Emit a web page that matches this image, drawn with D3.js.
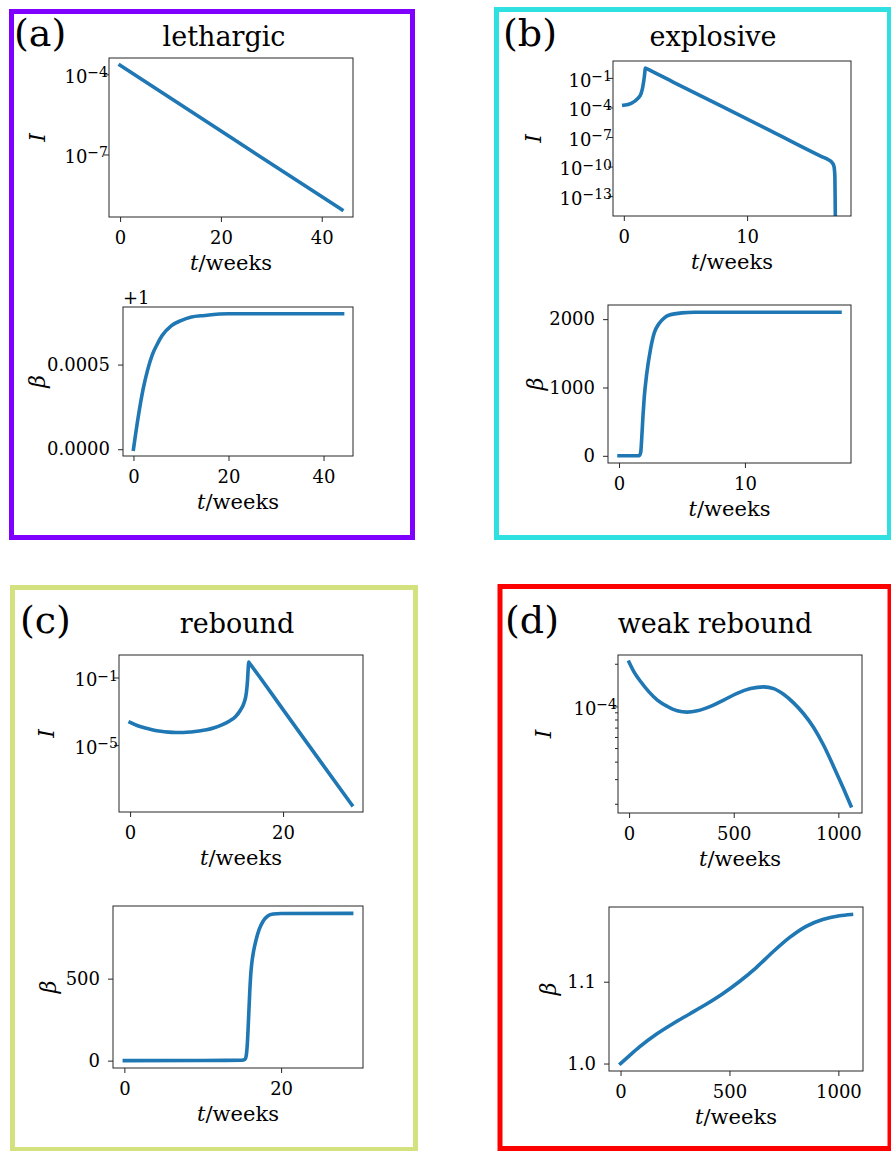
<!DOCTYPE html>
<html>
<head>
<meta charset="utf-8">
<script src="https://cdn.jsdelivr.net/npm/d3@7"></script>
<style>
  body { margin: 0; background: #fff; }
  .frame { fill: none; stroke: #262626; stroke-width: 1; }
  .curve { fill: none; stroke: #1f77b4; stroke-width: 3.6; stroke-linecap: square; stroke-linejoin: round; }
  .tag { font-family: "DejaVu Serif"; font-size: 38px; fill: #000; }
  .title { font-family: "DejaVu Serif"; font-size: 27px; fill: #000; }
</style>
</head>
<body>
<div id="chart"></div>
<script>

// (a) lethargic
var tA_I   = [0, 22, 44];
var iA     = [2.2e-4, 4.3e-7, 8.5e-10];
var tA_B   = [0, 1, 2, 3, 4, 5, 6, 8, 10, 12, 15, 20, 30, 44];
var betaA  = [1, 1.00019, 1.00035, 1.00047, 1.00056, 1.00062, 1.00067, 1.00073, 1.00076, 1.00078, 1.00079, 1.0008, 1.0008, 1.0008];

// (b) explosive
var tB_I   = [0, 0.6, 1.14, 1.4, 1.54, 1.62, 1.7, 1.74, 1.8, 4, 8, 12, 16, 16.6, 16.9, 17.05, 17.12, 17.15, 17.2, 17.55];
var iB     = [1.7e-4, 2.6e-4, 8.3e-4, 2.5e-3, 1.26e-2, 5.0e-2, 0.32, 1.0, 0.92, 3.8e-2, 1.2e-4, 3.7e-7, 1.1e-9, 4.8e-10, 2.5e-10, 1.0e-10, 1.0e-11, 5.0e-15, 0, 0];
var tB_B   = [0, 1.0, 1.6, 1.72, 1.8, 1.9, 2.0, 2.2, 2.5, 2.8, 3.2, 3.6, 4.0, 5, 6, 10, 17.55];
var betaB  = [0, 0, 2, 50, 250, 580, 850, 1200, 1560, 1800, 1940, 2020, 2060, 2092, 2100, 2102, 2102];

// (c) rebound
var tC_I   = [0, 1, 2, 3, 4, 5, 6, 7, 8, 9, 10, 11, 12, 13, 13.8, 14.4, 14.9, 15.2, 15.35, 15.45, 15.5, 15.55, 20, 25, 29];
var iC     = [2.24e-4, 1.41e-4, 1.02e-4, 7.9e-5, 6.6e-5, 5.9e-5, 5.6e-5, 5.6e-5, 6.0e-5, 6.8e-5, 8.1e-5, 1.07e-4, 1.58e-4, 2.7e-4,
              5.0e-4, 1.12e-3, 3.2e-3, 1.26e-2, 6.3e-2, 0.4, 0.81, 0.757, 1.26e-3, 9.3e-7, 2.95e-9];
var tC_B   = [0, 10, 15, 15.4, 15.55, 15.7, 15.85, 16.0, 16.15, 16.3, 16.5, 16.8, 17.2, 17.7, 18.3, 19, 20, 29];
var betaC  = [0, 1, 2, 8, 30, 110, 260, 420, 540, 610, 670, 735, 800, 850, 882, 894, 897, 898];

// (d) weak rebound
var tD_I   = [0, 24, 56, 95, 135, 183, 230, 278, 326, 389, 452, 516, 580, 643, 691, 738, 786, 833, 881, 929, 976, 1024, 1060];
var iD     = [2.07e-4, 1.76e-4, 1.50e-4, 1.27e-4, 1.11e-4, 1.0e-4, 9.3e-5, 9.1e-5, 9.3e-5, 1.0e-4, 1.11e-4, 1.24e-4, 1.34e-4,
              1.38e-4, 1.34e-4, 1.22e-4, 1.06e-4, 8.9e-5, 7.1e-5, 5.3e-5, 3.76e-5, 2.6e-5, 1.95e-5];
var tD_B   = [0, 41, 87, 164, 240, 317, 393, 469, 546, 622, 699, 775, 852, 928, 1005, 1060];
var betaD  = [1.0, 1.0098, 1.0204, 1.0358, 1.0487, 1.0606, 1.0724, 1.0853, 1.1003, 1.117, 1.1363, 1.1538, 1.1677, 1.176, 1.1806, 1.1822];

// tick values
var xTicksA = [0, 20, 40], xTicksB = [0, 10], xTicksC = [0, 20], xTicksD = [0, 500, 1000];
var iTicksA = [1e-4, 1e-7];
var iTicksB = [1e-1, 1e-4, 1e-7, 1e-10, 1e-13];
var iTicksC = [1e-1, 1e-5];
var iTicksD = [1e-4];
var bTicksA = [1.0, 1.0005];
var bTicksB = [0, 1000, 2000];
var bTicksC = [0, 500];
var bTicksD = [1.0, 1.1];

var serif = "DejaVu Serif";

var svg = d3.select("#chart").append("svg")
  .attr("width", 891)
  .attr("height", 1151);

// coloured panel boxes with their headings
var boxes = [
  { color: "#8000ff", x: 11.5,  y: 11.5,  w: 401, h: 526, tag: "(a)", title: "lethargic",    tagX: 14,  titleX: 224, base: 46 },
  { color: "#2fe0e0", x: 496.5, y: 9.5,   w: 393, h: 528, tag: "(b)", title: "explosive",    tagX: 503, titleX: 713, base: 46 },
  { color: "#d4e17f", x: 12.5,  y: 587.5, w: 403, h: 562, tag: "(c)", title: "rebound",      tagX: 20,  titleX: 237, base: 633 },
  { color: "#ff0000", x: 500,   y: 586.5, w: 390, h: 562, tag: "(d)", title: "weak rebound", tagX: 505, titleX: 715, base: 633 }
];

boxes.forEach(function(b){
  svg.append("rect")
    .attr("x", b.x).attr("y", b.y)
    .attr("width", b.w).attr("height", b.h)
    .attr("fill", "none")
    .attr("stroke", b.color)
    .attr("stroke-width", 5);
  svg.append("text").attr("class", "tag")
    .attr("x", b.tagX).attr("y", b.base)
    .text(b.tag);
  svg.append("text").attr("class", "title")
    .attr("x", b.titleX).attr("y", b.base)
    .attr("text-anchor", "middle")
    .text(b.title);
});

var clipId = 0;

function drawAxes(cfg){
  var g = svg.append("g")
    .attr("transform", "translate(" + cfg.x + "," + cfg.y + ")");

  // matplotlib style 5% margins
  var te = d3.extent(cfg.t), tp = (te[1] - te[0]) * 0.05;
  var x = d3.scaleLinear().domain([te[0] - tp, te[1] + tp]).range([0, cfg.w]);

  var y;
  if (cfg.log) {
    var lg = cfg.v.filter(function(d){ return d > 0; }).map(Math.log10);
    var lo = d3.min(lg), hi = d3.max(lg), p = (hi - lo) * 0.05;
    y = d3.scaleLog().domain([Math.pow(10, lo - p), Math.pow(10, hi + p)]).range([cfg.h, 0]);
  } else {
    var e = d3.extent(cfg.v), q = (e[1] - e[0]) * 0.05;
    y = d3.scaleLinear().domain([e[0] - q, e[1] + q]).range([cfg.h, 0]);
  }

  // curve
  clipId++;
  g.append("clipPath").attr("id", "clip" + clipId)
    .append("rect").attr("width", cfg.w).attr("height", cfg.h);

  var line = d3.line()
    .x(function(i){ return x(cfg.t[i]); })
    .y(function(i){ return cfg.v[i] > 0 || !cfg.log ? y(cfg.v[i]) : cfg.h + 60; })
    .curve(d3.curveMonotoneX);

  g.append("path")
    .attr("class", "curve")
    .attr("clip-path", "url(#clip" + clipId + ")")
    .attr("d", line(d3.range(cfg.t.length)));

  // axes
  var xAxis = d3.axisBottom(x).tickValues(cfg.xTicks).tickSize(5).tickPadding(9)
    .tickFormat(d3.format("d"));
  var gx = g.append("g").attr("transform", "translate(0," + cfg.h + ")").call(xAxis);

  var yAxis = d3.axisLeft(y).tickValues(cfg.yTicks).tickSize(5).tickPadding(8)
    .tickFormat(cfg.yFormat || function(d){ return d; });
  var gy = g.append("g").call(yAxis);

  [gx, gy].forEach(function(a){
    a.attr("font-family", serif).attr("font-size", 18);
    a.select(".domain").remove();
    a.selectAll(".tick line").attr("stroke", "#262626");
    a.selectAll(".tick text").attr("fill", "#000");
  });

  // log labels as 10 with a superscript exponent, pushed up against the axis
  if (cfg.log) {
    gy.selectAll(".tick text").each(function(d){
      var t = d3.select(this).text("");
      t.attr("x", -1).attr("dy", "0.45em");
      t.append("tspan").attr("font-size", 18).text("10");
      t.append("tspan")
        .attr("dy", "-0.4em")
        .attr("font-size", 14)
        .text("\u2212" + Math.round(-Math.log10(d)));
    });
  }

  if (cfg.minor) {
    var minors = y.ticks().filter(function(d){ return cfg.yTicks.indexOf(d) < 0; });
    g.selectAll(".minor").data(minors).enter().append("line")
      .attr("class", "minor")
      .attr("x1", -3).attr("x2", 0)
      .attr("y1", function(d){ return y(d); })
      .attr("y2", function(d){ return y(d); })
      .attr("stroke", "#262626");
  }

  if (cfg.offset) {
    g.append("text")
      .attr("font-family", serif).attr("font-size", 18)
      .attr("x", 0).attr("y", -3)
      .text(cfg.offset);
  }

  g.append("rect").attr("class", "frame")
    .attr("width", cfg.w).attr("height", cfg.h);

  // x label
  var xl = g.append("text")
    .attr("font-family", serif).attr("font-size", 21)
    .attr("x", cfg.w / 2).attr("y", cfg.h + 53)
    .attr("text-anchor", "middle");
  xl.append("tspan").attr("font-style", "italic").text("t");
  xl.append("tspan").text("/weeks");

  // y label
  g.append("text")
    .attr("font-family", serif).attr("font-size", 22)
    .attr("transform", "translate(" + cfg.ylabX + "," + (cfg.h / 2) + ") rotate(-90)")
    .attr("text-anchor", "middle")
    .attr("dy", "0.35em")
    .attr("font-style", "italic")
    .text(cfg.ylab);
}

var axesList = [
  { x: 109, y: 58,  w: 244, h: 159, t: tA_I, v: iA,    log: true,  xTicks: xTicksA, yTicks: iTicksA, ylab: "I", ylabX: -72 },
  { x: 123, y: 307, w: 230, h: 149, t: tA_B, v: betaA, log: false, xTicks: xTicksA, yTicks: bTicksA, ylab: "\u03b2", ylabX: -86,
    yFormat: function(d){ return (d - 1).toFixed(4); }, offset: "+1" },
  { x: 613, y: 61,  w: 238, h: 155, t: tB_I, v: iB,    log: true,  xTicks: xTicksB, yTicks: iTicksB, ylab: "I", ylabX: -80 },
  { x: 608, y: 305, w: 243, h: 158, t: tB_B, v: betaB, log: false, xTicks: xTicksB, yTicks: bTicksB, ylab: "\u03b2", ylabX: -73 },
  { x: 119, y: 655, w: 244, h: 157, t: tC_I, v: iC,    log: true,  xTicks: xTicksC, yTicks: iTicksC, ylab: "I", ylabX: -73 },
  { x: 113, y: 906, w: 250, h: 162, t: tC_B, v: betaC, log: false, xTicks: xTicksC, yTicks: bTicksC, ylab: "\u03b2", ylabX: -65 },
  { x: 618, y: 655, w: 244, h: 158, t: tD_I, v: iD,    log: true,  xTicks: xTicksD, yTicks: iTicksD, ylab: "I", ylabX: -75, minor: true },
  { x: 609, y: 907, w: 254, h: 164, t: tD_B, v: betaD, log: false, xTicks: xTicksD, yTicks: bTicksD, ylab: "\u03b2", ylabX: -61,
    yFormat: d3.format(".1f") }
];

axesList.forEach(drawAxes);

</script>
</body>
</html>
